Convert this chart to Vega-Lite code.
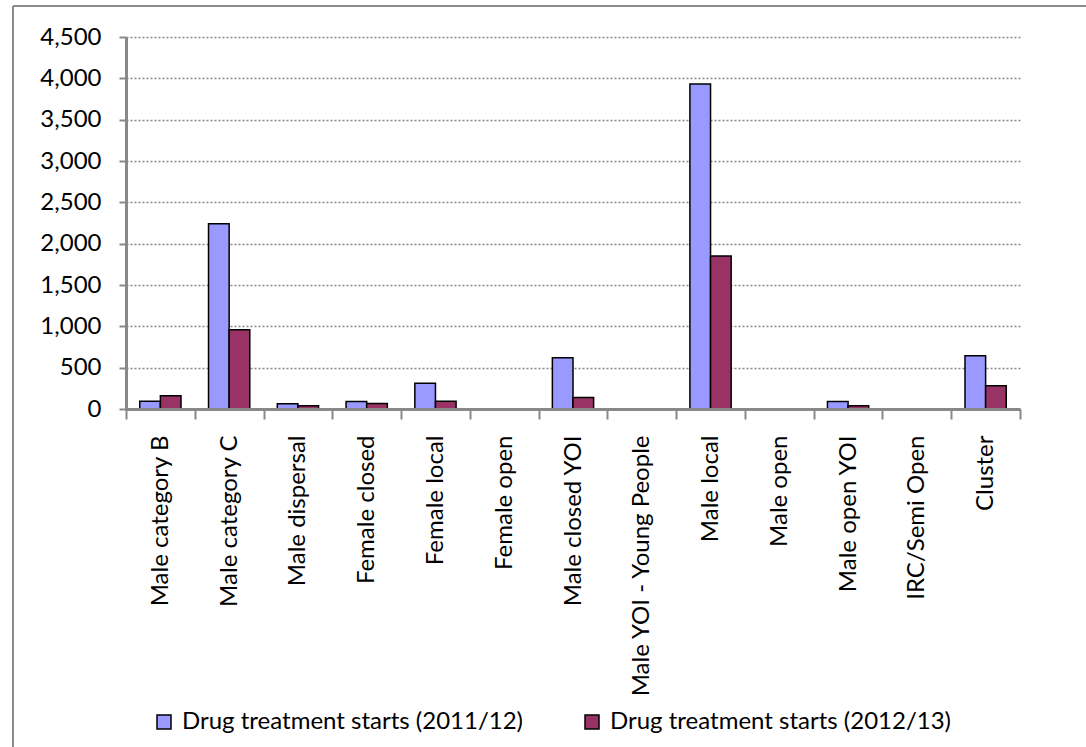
{
  "$schema": "https://vega.github.io/schema/vega-lite/v6.json",
  "width": 1073,
  "height": 741,
  "autosize": {"type": "none"},
  "padding": {"left": 13, "top": 6, "right": 0, "bottom": 0},
  "background": "white",
  "view": {"stroke": "#8c8c8c", "strokeWidth": 2, "strokeDash": [1073, 1814, 741, 0], "strokeCap": "butt"},
  "config": {
    "view": {"stroke": "#8c8c8c", "strokeWidth": 2, "strokeDash": [1073, 1814, 741, 0]},
    "font": "Lato"
  },
  "data": {
    "values": [
      {"prison_type": "Male category B", "period": "Drug treatment starts (2011/12)", "starts": 95},
      {"prison_type": "Male category B", "period": "Drug treatment starts (2012/13)", "starts": 160},
      {"prison_type": "Male category C", "period": "Drug treatment starts (2011/12)", "starts": 2240},
      {"prison_type": "Male category C", "period": "Drug treatment starts (2012/13)", "starts": 960},
      {"prison_type": "Male dispersal", "period": "Drug treatment starts (2011/12)", "starts": 65},
      {"prison_type": "Male dispersal", "period": "Drug treatment starts (2012/13)", "starts": 40},
      {"prison_type": "Female closed", "period": "Drug treatment starts (2011/12)", "starts": 90},
      {"prison_type": "Female closed", "period": "Drug treatment starts (2012/13)", "starts": 68},
      {"prison_type": "Female local", "period": "Drug treatment starts (2011/12)", "starts": 310},
      {"prison_type": "Female local", "period": "Drug treatment starts (2012/13)", "starts": 95},
      {"prison_type": "Female open", "period": "Drug treatment starts (2011/12)", "starts": 0},
      {"prison_type": "Female open", "period": "Drug treatment starts (2012/13)", "starts": 0},
      {"prison_type": "Male closed YOI", "period": "Drug treatment starts (2011/12)", "starts": 620},
      {"prison_type": "Male closed YOI", "period": "Drug treatment starts (2012/13)", "starts": 140},
      {"prison_type": "Male YOI - Young People", "period": "Drug treatment starts (2011/12)", "starts": 0},
      {"prison_type": "Male YOI - Young People", "period": "Drug treatment starts (2012/13)", "starts": 0},
      {"prison_type": "Male local", "period": "Drug treatment starts (2011/12)", "starts": 3930},
      {"prison_type": "Male local", "period": "Drug treatment starts (2012/13)", "starts": 1850},
      {"prison_type": "Male open", "period": "Drug treatment starts (2011/12)", "starts": 0},
      {"prison_type": "Male open", "period": "Drug treatment starts (2012/13)", "starts": 0},
      {"prison_type": "Male open YOI", "period": "Drug treatment starts (2011/12)", "starts": 90},
      {"prison_type": "Male open YOI", "period": "Drug treatment starts (2012/13)", "starts": 40},
      {"prison_type": "IRC/Semi Open", "period": "Drug treatment starts (2011/12)", "starts": 0},
      {"prison_type": "IRC/Semi Open", "period": "Drug treatment starts (2012/13)", "starts": 0},
      {"prison_type": "Cluster", "period": "Drug treatment starts (2011/12)", "starts": 645},
      {"prison_type": "Cluster", "period": "Drug treatment starts (2012/13)", "starts": 280}
    ]
  },
  "mark": {"type": "bar", "stroke": "black"},
  "encoding": {
    "x": {
      "field": "prison_type",
      "type": "nominal",
      "sort": null,
      "scale": {"range": [113, 1007], "paddingInner": 0, "paddingOuter": 0},
      "axis": {
        "title": null,
        "offset": -338,
        "labelAngle": -90,
        "labelFontSize": 24,
        "labelColor": "black",
        "labelPadding": 16,
        "labelLimit": 400,
        "tickBand": "extent",
        "tickSize": 10,
        "tickWidth": 2,
        "tickColor": "#888888",
        "domainColor": "#888888",
        "domainWidth": 3,
        "grid": false,
        "zindex": 1
      }
    },
    "xOffset": {
      "field": "period",
      "type": "nominal",
      "scale": {"paddingInner": 0, "paddingOuter": 0.667}
    },
    "y": {
      "field": "starts",
      "type": "quantitative",
      "scale": {"domain": [0, 4500], "nice": false, "range": [403, 31]},
      "axis": {
        "title": null,
        "offset": -113,
        "values": [0, 500, 1000, 1500, 2000, 2500, 3000, 3500, 4000, 4500],
        "format": ",d",
        "labelFontSize": 24,
        "labelColor": "black",
        "labelPadding": 18,
        "tickSize": 7,
        "tickWidth": 2,
        "tickColor": "#888888",
        "domainColor": "#888888",
        "domainWidth": 3,
        "grid": true,
        "gridColor": "#888888",
        "gridWidth": 1.5,
        "gridDash": [2, 2]
      }
    },
    "color": {
      "field": "period",
      "type": "nominal",
      "scale": {
        "domain": ["Drug treatment starts (2011/12)", "Drug treatment starts (2012/13)"],
        "range": ["#9999FF", "#993366"]
      },
      "legend": {
        "title": null,
        "orient": "none",
        "legendX": 139,
        "legendY": 704,
        "direction": "horizontal",
        "columns": 2,
        "columnPadding": 56,
        "symbolType": "square",
        "symbolSize": 196,
        "symbolStrokeColor": "black",
        "symbolStrokeWidth": 1.5,
        "labelFontSize": 24,
        "labelColor": "black",
        "labelOffset": 6,
        "labelLimit": 500
      }
    },
    "strokeWidth": {
      "condition": {"test": "datum.starts === 0", "value": 0},
      "value": 1.5
    }
  }
}
